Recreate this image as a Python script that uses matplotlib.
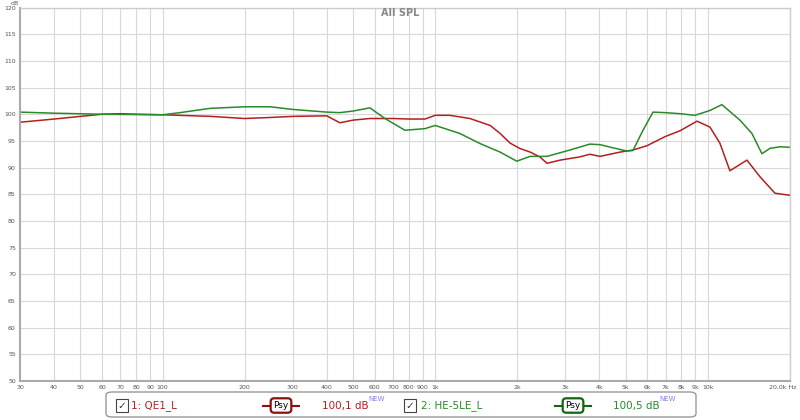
import numpy as np
import matplotlib
matplotlib.use('Agg')
import matplotlib.pyplot as plt
from matplotlib.patches import FancyBboxPatch, Rectangle
from matplotlib.transforms import ScaledTranslation

# Curve data (frequency in Hz, level in dB)
freq_qe1 = [30, 40, 50, 60, 70, 80, 100, 150, 200, 250, 300, 400, 447, 500, 576,
            700, 800, 917, 1000, 1130, 1340, 1590, 1730, 1880, 2040, 2230, 2420,
            2570, 2870, 3390, 3690, 4020, 4760, 5310, 5980, 6960, 7900, 9120,
            10170, 11060, 12040, 13900, 15510, 17610, 20000]
spl_qe1 = [98.5, 99.1, 99.6, 100.0, 100.1, 100.0, 99.9, 99.6, 99.2, 99.4, 99.6,
           99.7, 98.4, 98.9, 99.2, 99.2, 99.1, 99.1, 99.8, 99.8, 99.2, 97.9, 96.4,
           94.6, 93.6, 92.9, 92.0, 90.8, 91.4, 92.0, 92.5, 92.1, 92.9, 93.3, 94.1,
           95.8, 96.9, 98.7, 97.6, 94.6, 89.4, 91.4, 88.3, 85.2, 84.8]

freq_he5 = [30, 40, 60, 100, 116, 149, 200, 248, 300, 400, 447, 500, 576, 654,
            774, 917, 1000, 1230, 1460, 1730, 1990, 2230, 2570, 3120, 3690, 4020,
            4490, 5050, 5310, 5780, 6290, 6960, 7900, 8960, 10170, 11250, 13100,
            14500, 15780, 16880, 18370, 20000]
spl_he5 = [100.4, 100.2, 100.0, 99.9, 100.3, 101.1, 101.4, 101.4, 100.9, 100.4,
           100.3, 100.6, 101.2, 99.2, 97.0, 97.3, 97.9, 96.4, 94.5, 92.9, 91.2,
           92.1, 92.1, 93.3, 94.4, 94.3, 93.7, 93.1, 93.2, 97.0, 100.4, 100.3,
           100.1, 99.8, 100.7, 101.8, 98.9, 96.4, 92.6, 93.6, 93.9, 93.8]

xticks = [30, 40, 50, 60, 70, 80, 90, 100, 200, 300, 400, 500, 600, 700, 800, 900,
          1000, 2000, 3000, 4000, 5000, 6000, 7000, 8000, 9000, 10000, 20000]
xlabels = ['30', '40', '50', '60', '70', '80', '90', '100', '200', '300', '400',
           '500', '600', '700', '800', '900', '1k', '2k', '3k', '4k', '5k', '6k',
           '7k', '8k', '9k', '10k', '20,0k Hz']
yticks = list(range(50, 121, 5))

red = '#b51f1f'
green = '#2a8a2a'

fig = plt.figure(figsize=(8, 4.2), dpi=100)
ax = fig.add_axes([0.025, 0.093, 0.9625, 0.889])
ax.set_xscale('log')
ax.set_xlim(30, 20000)
ax.set_ylim(50, 120)

ax.plot(freq_qe1, spl_qe1, color=red, lw=1.1)
ax.plot(freq_he5, spl_he5, color=green, lw=1.1)

ax.set_xticks(xticks)
ax.set_xticklabels(xlabels)
ax.minorticks_off()
ax.set_yticks(yticks)
ax.tick_params(axis='both', labelsize=4.5, colors='#555555', length=0, pad=3)
# the last label sits a little to the left so it stays inside the figure
last = ax.get_xticklabels()[-1]
last.set_transform(last.get_transform() + ScaledTranslation(-5 / 72, 0, fig.dpi_scale_trans))
ax.grid(True, color='#d8d8d8', lw=0.8)
ax.set_axisbelow(True)
for s in ax.spines.values():
    s.set_color('#cccccc')
    s.set_linewidth(1)
ax.spines['left'].set_color('#aaaaaa')
ax.spines['left'].set_linewidth(1.5)
ax.spines['bottom'].set_color('#aaaaaa')
ax.spines['bottom'].set_linewidth(1.5)

fig.text(0.5, 0.968, 'All SPL', ha='center', va='center', fontsize=7,
         color='#888888', fontweight='bold')
fig.text(0.018, 0.992, 'dB', ha='center', va='center', fontsize=4.5, color='#555555')

# Legend bar
W, H = 800, 420
def fx(px):
    return px / W
def fy(py):
    return 1 - py / H

box = FancyBboxPatch((fx(106), fy(417)), fx(590), 25 / H,
                     boxstyle='round,pad=0,rounding_size=0.008',
                     transform=fig.transFigure, fc='white', ec='#999999', lw=1)
fig.patches.append(box)

def checkbox(px):
    r = Rectangle((fx(px), fy(412)), 12 / W, 13 / H, transform=fig.transFigure,
                  fc='white', ec='#444444', lw=0.8)
    fig.patches.append(r)
    fig.text(fx(px + 6), fy(405.5), '\u2713', ha='center', va='center',
             fontsize=7.5, color='#333333')

def psy(cx, col):
    fig.lines.append(plt.Line2D([fx(cx - 18), fx(cx + 18)], [fy(405.5), fy(405.5)],
                                transform=fig.transFigure, color=col, lw=1.5))
    fig.text(fx(cx), fy(405.5), 'Psy', ha='center', va='center', fontsize=6.5,
             color='black',
             bbox=dict(boxstyle='round,pad=0.3,rounding_size=0.4', fc='white',
                       ec=col, lw=1.6))

checkbox(116)
fig.text(fx(131), fy(405.5), '1: QE1_L', ha='left', va='center', fontsize=7.5, color=red)
psy(281, '#8b1010')
fig.text(fx(322), fy(405.5), '100,1 dB', ha='left', va='center', fontsize=7.5, color=red)
fig.text(fx(368), fy(399), 'NEW', ha='left', va='center', fontsize=5, color='#8080ee')

checkbox(404)
fig.text(fx(421), fy(405.5), '2: HE-5LE_L', ha='left', va='center', fontsize=7.5, color=green)
psy(573, '#116611')
fig.text(fx(613), fy(405.5), '100,5 dB', ha='left', va='center', fontsize=7.5, color=green)
fig.text(fx(659), fy(399), 'NEW', ha='left', va='center', fontsize=5, color='#8080ee')

fig.savefig('out.png', dpi=100)
